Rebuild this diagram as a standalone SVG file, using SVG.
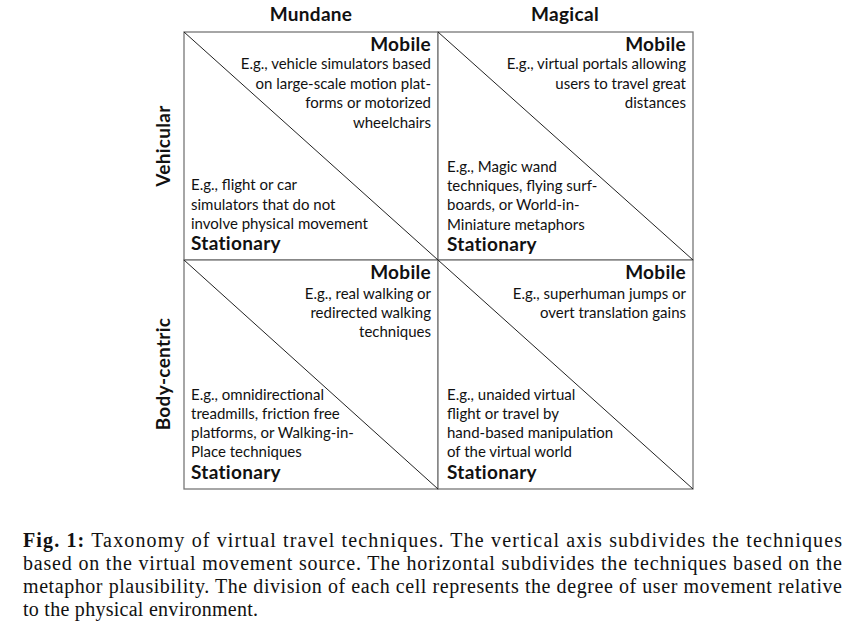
<svg xmlns="http://www.w3.org/2000/svg" width="854" height="631" viewBox="0 0 854 631">
<style>
.t{font-family:Lato,"Open Sans",sans-serif;font-size:15px;fill:#111}
.b{font-family:Lato,"Open Sans",sans-serif;font-size:19px;font-weight:bold;fill:#111;letter-spacing:0.3px}
.r{text-anchor:end}
.cap{font-family:"Liberation Serif",serif;font-size:20px;fill:#111}
.cell{fill:#fff;stroke:#777;stroke-width:1.3}
.diag{stroke:#222;stroke-width:1}
</style>
<rect width="854" height="631" fill="#fff"/>
<g id="headers">
<text class="b" x="311" y="21" text-anchor="middle">Mundane</text>
<text class="b" x="565" y="21" text-anchor="middle">Magical</text>
<text class="b" transform="translate(170,146) rotate(-90)" text-anchor="middle">Vehicular</text>
<text class="b" transform="translate(170,374) rotate(-90)" text-anchor="middle">Body-centric</text>
</g>
<g id="cell-vehicular-mundane">
<rect class="cell" x="184" y="32" width="254" height="228"/>
<text class="b r" x="431" y="51">Mobile</text>
<text class="t r" x="431" y="69">E.g., vehicle simulators based</text>
<text class="t r" x="431" y="89">on large-scale motion plat-</text>
<text class="t r" x="431" y="108">forms or motorized</text>
<text class="t r" x="431" y="128">wheelchairs</text>
<text class="t" x="191" y="190">E.g., flight or car</text>
<text class="t" x="191" y="210">simulators that do not</text>
<text class="t" x="191" y="229">involve physical movement</text>
<text class="b" x="191" y="250">Stationary</text>
</g>
<g id="cell-vehicular-magical">
<rect class="cell" x="438" y="32" width="255" height="228"/>
<text class="b r" x="686" y="51">Mobile</text>
<text class="t r" x="686" y="69">E.g., virtual portals allowing</text>
<text class="t r" x="686" y="89">users to travel great</text>
<text class="t r" x="686" y="108">distances</text>
<text class="t" x="447" y="172">E.g., Magic wand</text>
<text class="t" x="447" y="191">techniques, flying surf-</text>
<text class="t" x="447" y="210">boards, or World-in-</text>
<text class="t" x="447" y="230">Miniature metaphors</text>
<text class="b" x="447" y="251">Stationary</text>
</g>
<g id="cell-bodycentric-mundane">
<rect class="cell" x="184" y="260" width="254" height="229"/>
<text class="b r" x="431" y="279">Mobile</text>
<text class="t r" x="431" y="299">E.g., real walking or</text>
<text class="t r" x="431" y="318">redirected walking</text>
<text class="t r" x="431" y="337">techniques</text>
<text class="t" x="191" y="400">E.g., omnidirectional</text>
<text class="t" x="191" y="419">treadmills, friction free</text>
<text class="t" x="191" y="438">platforms, or Walking-in-</text>
<text class="t" x="191" y="457">Place techniques</text>
<text class="b" x="191" y="479">Stationary</text>
</g>
<g id="cell-bodycentric-magical">
<rect class="cell" x="438" y="260" width="255" height="229"/>
<text class="b r" x="686" y="279">Mobile</text>
<text class="t r" x="686" y="299">E.g., superhuman jumps or</text>
<text class="t r" x="686" y="318">overt translation gains</text>
<text class="t" x="447" y="400">E.g., unaided virtual</text>
<text class="t" x="447" y="419">flight or travel by</text>
<text class="t" x="447" y="438">hand-based manipulation</text>
<text class="t" x="447" y="457">of the virtual world</text>
<text class="b" x="447" y="479">Stationary</text>
</g>
<g id="connectors">
<line class="diag" x1="184" y1="32" x2="438" y2="260"/>
<line class="diag" x1="438" y1="32" x2="693" y2="260"/>
<line class="diag" x1="184" y1="260" x2="438" y2="489"/>
<line class="diag" x1="438" y1="260" x2="693" y2="489"/>
</g>
<g id="caption">
<text class="cap" x="23" y="547" textLength="819" lengthAdjust="spacing"><tspan font-weight="bold">Fig. 1:</tspan> Taxonomy of virtual travel techniques.  The vertical axis subdivides the techniques</text>
<text class="cap" x="23" y="570" textLength="819" lengthAdjust="spacing">based on the virtual movement source. The horizontal subdivides the techniques based on the</text>
<text class="cap" x="23" y="593" textLength="819" lengthAdjust="spacing">metaphor plausibility. The division of each cell represents the degree of user movement relative</text>
<text class="cap" x="23" y="616" textLength="235" lengthAdjust="spacing">to the physical environment.</text>
</g>
</svg>
